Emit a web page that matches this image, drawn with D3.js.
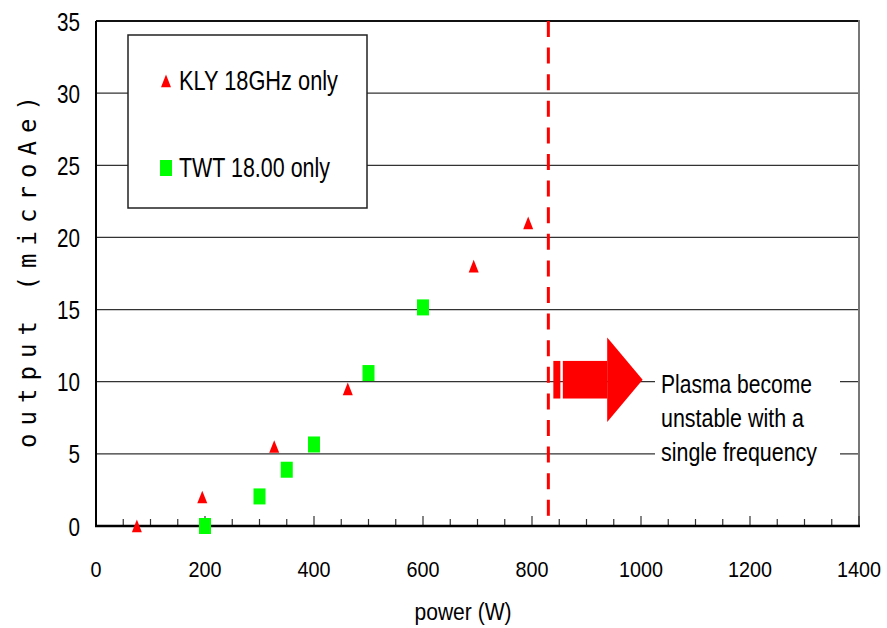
<!DOCTYPE html>
<html>
<head>
<meta charset="utf-8">
<script src="https://cdn.jsdelivr.net/npm/d3@7"></script>
<style>
  html, body { margin: 0; padding: 0; background: #fff; }
  svg { display: block; }
  text { font-family: "Liberation Sans Narrow", "Liberation Sans", Arial, sans-serif; fill: #000; }
</style>
</head>
<body>
<svg id="chart" width="887" height="628"></svg>
<script>
// ---- data ----
const klyPower  = [75, 195, 327, 462, 693, 793];
const klyOutput = [0, 2.0, 5.5, 9.5, 18.0, 21.0];
const twtPower  = [200, 300, 350, 400, 500, 600];
const twtOutput = [0, 2.05, 3.9, 5.65, 10.6, 15.15];
const xTickValues = [0, 200, 400, 600, 800, 1000, 1200, 1400];
const yTickValues = [0, 5, 10, 15, 20, 25, 30, 35];
const legendLabels = ["KLY 18GHz only", "TWT 18.00 only"];
const limitPower = 830;              // dashed threshold
const arrowFrom = 830, arrowHeadAt = 938, arrowTo = 1003, arrowLevel = 10;
const noteLines = ["Plasma become", "unstable with a", "single frequency"];
const xTitle = "power (W)";
const yTitle = "output (microAe)";

// ---- layout ----
const svg = d3.select("#chart");
const x = d3.scaleLinear().domain([0, 1400]).range([96, 859]);
const y = d3.scaleLinear().domain([0, 35]).range([526, 21]);

function fit(sel, len, adj) {
  sel.attr("textLength", len).attr("lengthAdjust", adj || "spacingAndGlyphs");
  return sel;
}

// gridlines
svg.append("g").selectAll("line")
  .data(yTickValues.filter(v => v > 0 && v < 35))
  .join("line")
  .attr("x1", x(0)).attr("x2", x(1400))
  .attr("y1", d => y(d)).attr("y2", d => y(d))
  .attr("stroke", "#333").attr("stroke-width", 1.2);

// plot border (top + right)
svg.append("line").attr("x1", x(0)).attr("x2", x(1400)).attr("y1", y(35)).attr("y2", y(35))
  .attr("stroke", "#111").attr("stroke-width", 2);
svg.append("line").attr("x1", x(1400)).attr("x2", x(1400)).attr("y1", y(35) - 1).attr("y2", y(0))
  .attr("stroke", "#777").attr("stroke-width", 2);

// x minor/major ticks (inside)
const minor = d3.range(0, 1401, 50);
svg.append("g").selectAll("line").data(minor).join("line")
  .attr("x1", d => x(d)).attr("x2", d => x(d))
  .attr("y1", y(0)).attr("y2", d => y(0) - (d % 200 === 0 ? 10 : 7))
  .attr("stroke", "#333").attr("stroke-width", 1.2);

// axes lines
svg.append("line").attr("x1", x(0)).attr("x2", x(0)).attr("y1", y(35)).attr("y2", y(0) + 1)
  .attr("stroke", "#000").attr("stroke-width", 2);
svg.append("line").attr("x1", x(0) - 1).attr("x2", x(1400) + 1).attr("y1", y(0)).attr("y2", y(0))
  .attr("stroke", "#000").attr("stroke-width", 2.5);

// tick labels
svg.append("g").selectAll("text").data(yTickValues).join("text")
  .attr("x", 80).attr("y", d => y(d) + 9.5)
  .attr("text-anchor", "end").attr("font-size", 26)
  .text(d => d)
  .each(function(d) { fit(d3.select(this), String(d).length * 11.5); });

svg.append("g").selectAll("text").data(xTickValues).join("text")
  .attr("x", d => x(d)).attr("y", 577)
  .attr("text-anchor", "middle").attr("font-size", 22)
  .text(d => d)
  .each(function(d) { fit(d3.select(this), String(d).length * 11); });

// axis titles
fit(svg.append("text").attr("x", 463).attr("y", 620).attr("text-anchor", "middle")
  .attr("font-size", 23).text(xTitle), 97);
fit(svg.append("text").attr("transform", "translate(36,272) rotate(-90)")
  .attr("text-anchor", "middle").attr("font-size", 24)
  .style("font-family", "'DejaVu Sans Mono', 'Liberation Mono', monospace")
  .text(yTitle), 352, "spacing");

// dashed threshold
svg.append("line").attr("x1", x(limitPower)).attr("x2", x(limitPower))
  .attr("y1", y(35)).attr("y2", y(0))
  .attr("stroke", "#f00").attr("stroke-width", 3).attr("stroke-dasharray", "16,10.6");

// arrow
const ay = y(arrowLevel) - 2;
const shaftH = 18.8, headH = 42.2;
const ax0 = x(arrowFrom);
svg.append("rect").attr("x", ax0 + 5).attr("y", ay - shaftH).attr("width", 7).attr("height", 2 * shaftH).attr("fill", "#f00");
svg.append("rect").attr("x", ax0 + 14.5).attr("y", ay - shaftH).attr("width", x(arrowHeadAt) - ax0 - 14.5).attr("height", 2 * shaftH).attr("fill", "#f00");
svg.append("path")
  .attr("d", `M${x(arrowHeadAt)},${ay - headH} L${x(arrowTo)},${ay} L${x(arrowHeadAt)},${ay + headH} Z`)
  .attr("fill", "#f00");

// note with white background
svg.append("rect").attr("x", 655).attr("y", 366).attr("width", 185).attr("height", 106).attr("fill", "#fff");
const noteLens = [151, 143, 156];
const noteBase = [393, 427, 461];
noteLines.forEach((t, i) => {
  fit(svg.append("text").attr("x", 661).attr("y", noteBase[i]).attr("font-size", 26).text(t), noteLens[i]);
});

// markers
const triPath = "M0,-6.5 L5,6.2 L-5,6.2 Z";
svg.append("g").selectAll("path").data(klyPower.map((p, i) => [p, klyOutput[i]])).join("path")
  .attr("d", triPath)
  .attr("transform", d => `translate(${x(d[0])},${y(d[1])})`)
  .attr("fill", "#f00");
svg.append("g").selectAll("rect").data(twtPower.map((p, i) => [p, twtOutput[i]])).join("rect")
  .attr("x", d => x(d[0]) - 6).attr("y", d => y(d[1]) - 8)
  .attr("width", 12).attr("height", 16)
  .attr("fill", "#0f0");

// legend
svg.append("rect").attr("x", 128).attr("y", 35).attr("width", 239).attr("height", 173)
  .attr("fill", "#fff").attr("stroke", "#222").attr("stroke-width", 1.5);
svg.append("path").attr("d", triPath).attr("transform", "translate(166,81)").attr("fill", "#f00");
svg.append("rect").attr("x", 160).attr("y", 160).attr("width", 12).attr("height", 16).attr("fill", "#0f0");
fit(svg.append("text").attr("x", 179).attr("y", 90).attr("font-size", 27).text(legendLabels[0]), 159);
fit(svg.append("text").attr("x", 179).attr("y", 177).attr("font-size", 27).text(legendLabels[1]), 151);
</script>
</body>
</html>
